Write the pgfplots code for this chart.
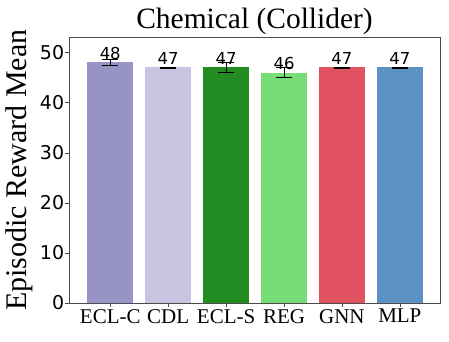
\documentclass[border={6pt 18pt 9pt 8pt}]{standalone}
\usepackage{fontspec}
\setmainfont{Liberation Serif}
\newfontfamily\dejavu{DejaVu Sans}
\usepackage{pgfplots}
\pgfplotsset{compat=1.18}
\definecolor{eclc}{HTML}{9893C5}
\definecolor{cdl}{HTML}{C8C5E2}
\definecolor{ecls}{HTML}{228B22}
\definecolor{reg}{HTML}{77DD77}
\definecolor{gnn}{HTML}{E05260}
\definecolor{mlp}{HTML}{5B92C3}
\begin{document}
\begin{tikzpicture}
\begin{axis}[
  scale only axis,
  width=371pt, height=266pt,
  xmin=-0.707, xmax=5.69,
  ymin=0, ymax=53,
  xtick={0,1,2,3,4,5},
  xticklabels={ECL-C,CDL,ECL-S,REG,GNN,MLP},
  ytick={0,10,20,30,40,50},
  axis line style={black!70},
  tick style={black!70, thin},
  tick align=outside,
  major tick length=4pt,
  xtick pos=bottom, ytick pos=left,
  /pgf/number format/assume math mode=true,
  yticklabel style={font=\dejavu\fontsize{19}{19}\selectfont, inner sep=0pt, xshift=-1pt},
  xticklabel style={font=\fontsize{21}{21}\selectfont, inner sep=0pt, yshift=-2pt},
  ylabel={Episodic Reward Mean},
  ylabel style={font=\fontsize{30}{30}\selectfont, inner sep=0pt,
    at={(axis description cs:-0.097,0.5)}, anchor=south},
  title={Chemical (Collider)},
  title style={font=\fontsize{29.5}{29.5}\selectfont, inner sep=0pt,
    at={(axis description cs:0.5,1)}, anchor=base, yshift=3pt},
  ybar, bar width=0.8, bar shift=0pt,
  nodes near coords={\pgfmathprintnumber[fixed,precision=0]{\pgfplotspointmeta}},
  nodes near coords style={font=\dejavu\fontsize{16.5}{16.5}\selectfont, anchor=south, yshift=-1pt},
  error bars/y dir=both, error bars/y explicit,
  error bars/error bar style={black, line width=0.8pt},
  error bars/error mark options={rotate=90, mark size=8pt, black, line width=0.8pt},
]
\addplot[fill=eclc, draw=none] coordinates {(0,48.0) +- (0,0.6)};
\addplot[fill=cdl, draw=none] coordinates {(1,47.0) +- (0,0.1)};
\addplot[fill=ecls, draw=none] coordinates {(2,47.0) +- (0,1.0)};
\addplot[fill=reg, draw=none] coordinates {(3,46.0) +- (0,1.0)};
\addplot[fill=gnn, draw=none] coordinates {(4,47.0) +- (0,0.1)};
\addplot[fill=mlp, draw=none] coordinates {(5,47.0) +- (0,0.1)};
\end{axis}
\end{tikzpicture}
\end{document}
